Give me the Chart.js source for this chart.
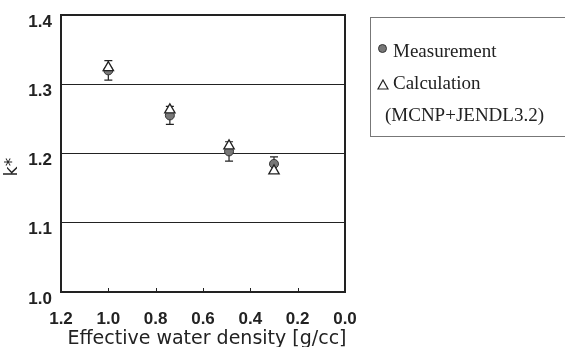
<!DOCTYPE html>
<html>
<head>
<meta charset="utf-8">
<script src="https://cdn.jsdelivr.net/npm/chart.js@4"></script>
<style>
  body { margin: 0; background: #fff; }
  #wrap { position: relative; width: 565px; height: 347px; overflow: hidden; }
  #grafico { position: absolute; left: 0; top: 0; }
  #legenda {
    position: absolute; left: 370px; top: 17px; width: 210px; height: 120px;
    border: 1px solid #777; box-sizing: border-box;
    font-family: "Liberation Serif", serif; font-size: 19px; color: #222;
  }
  #legenda span { position: absolute; white-space: nowrap; line-height: 1; }
  .circulo { position: absolute; width: 7px; height: 7px; border-radius: 50%; background: #777; border: 1px solid #333; }
</style>
</head>
<body>
<div id="wrap">
  <canvas id="grafico" width="565" height="347"></canvas>
  <div id="legenda">
    <div class="circulo" style="left:7px; top:26px;"></div>
    <span style="left:22px; top:23px;">Measurement</span>
    <svg style="position:absolute; left:6px; top:61px;" width="12" height="11"><polygon points="6,1 11,10 1,10" fill="#fff" stroke="#222" stroke-width="1.2"/></svg>
    <span style="left:22px; top:55px;">Calculation</span>
    <span style="left:14px; top:87px;">(MCNP+JENDL3.2)</span>
  </div>
</div>
<script>
// Dados
const densidades = [1.0, 0.74, 0.49, 0.30];
const kMedido = [1.320, 1.255, 1.203, 1.185];
const erroMedido = [0.014, 0.013, 0.014, 0.010];
const kCalculado = [1.324, 1.263, 1.211, 1.175];
const ticksX = [1.2, 1.0, 0.8, 0.6, 0.4, 0.2, 0.0];

// Barras de erro, moldura, marcas internas do eixo x e títulos dos eixos
const extras = {
    id: 'extras',
    beforeDatasetsDraw(chart) {
        const ctx = chart.ctx;
        const x = chart.scales.x, y = chart.scales.y;
        ctx.save();
        ctx.strokeStyle = '#222';
        ctx.lineWidth = 1.2;
        for (let i = 0; i < densidades.length; i++) {
            const px = x.getPixelForValue(densidades[i]);
            const top = y.getPixelForValue(kMedido[i] + erroMedido[i]);
            const bot = y.getPixelForValue(kMedido[i] - erroMedido[i]);
            ctx.beginPath();
            ctx.moveTo(px, top); ctx.lineTo(px, bot);
            ctx.moveTo(px - 4, top); ctx.lineTo(px + 4, top);
            ctx.moveTo(px - 4, bot); ctx.lineTo(px + 4, bot);
            ctx.stroke();
        }
        ctx.restore();
    },
    afterDraw(chart) {
        const ctx = chart.ctx;
        const a = chart.chartArea;
        const x = chart.scales.x;
        ctx.save();
        ctx.strokeStyle = '#222';
        ctx.lineWidth = 1;
        ticksX.forEach(t => {
            const px = Math.round(x.getPixelForValue(t)) + 0.5;
            ctx.beginPath();
            ctx.moveTo(px, a.bottom); ctx.lineTo(px, a.bottom - 4);
            ctx.stroke();
        });
        ctx.lineWidth = 2;
        ctx.strokeRect(a.left, a.top, a.right - a.left, a.bottom - a.top);

        ctx.fillStyle = '#222';
        ctx.textAlign = 'center';
        // título do eixo x
        ctx.font = '19px "DejaVu Sans"';
        ctx.textBaseline = 'alphabetic';
        ctx.fillText('Effective water density [g/cc]', 207, 344);
        // título do eixo y
        ctx.translate(13, 167);
        ctx.rotate(-Math.PI / 2);
        ctx.font = '17px "DejaVu Sans"';
        ctx.textBaseline = 'middle';
        ctx.fillText('k*', 0, 0);
        ctx.restore();
    }
};

const ctx = document.getElementById('grafico').getContext('2d');
new Chart(ctx, {
    type: 'scatter',
    data: {
        datasets: [
            {
                label: 'Measurement',
                data: densidades.map((d, i) => ({ x: d, y: kMedido[i] })),
                pointStyle: 'circle',
                pointRadius: 4.5,
                backgroundColor: '#777',
                borderColor: '#333',
                borderWidth: 1,
                order: 2
            },
            {
                label: 'Calculation (MCNP+JENDL3.2)',
                data: densidades.map((d, i) => ({ x: d, y: kCalculado[i] })),
                pointStyle: 'triangle',
                pointRadius: 6,
                backgroundColor: '#fff',
                borderColor: '#222',
                borderWidth: 1.3,
                order: 1
            }
        ]
    },
    options: {
        responsive: false,
        animation: false,
        layout: { padding: { left: 0, right: 220, top: 15, bottom: 0 } },
        plugins: { legend: { display: false }, tooltip: { enabled: false } },
        scales: {
            x: {
                type: 'linear',
                reverse: true,
                min: 0, max: 1.2,
                afterBuildTicks: s => { s.ticks = ticksX.map(v => ({ value: v })); },
                afterFit: s => { s.height = 55; },
                grid: { display: false },
                border: { display: false },
                ticks: {
                    padding: 9,
                    color: '#222',
                    font: { family: 'Liberation Sans', size: 17, weight: 'bold' },
                    callback: v => v.toFixed(1),
                    maxRotation: 0
                },
                title: { display: false }
            },
            y: {
                min: 1.0, max: 1.4,
                afterFit: s => { s.width = 61; s.paddingTop = 0; s.paddingBottom = 0; },
                grid: { color: '#222', lineWidth: 1, drawTicks: false },
                border: { display: false },
                ticks: {
                    stepSize: 0.1,
                    padding: 9,
                    labelOffset: 7,
                    color: '#222',
                    font: { family: 'Liberation Sans', size: 17, weight: 'bold' },
                    callback: v => v.toFixed(1)
                },
                title: { display: false }
            }
        }
    },
    plugins: [extras]
});
</script>
</body>
</html>
